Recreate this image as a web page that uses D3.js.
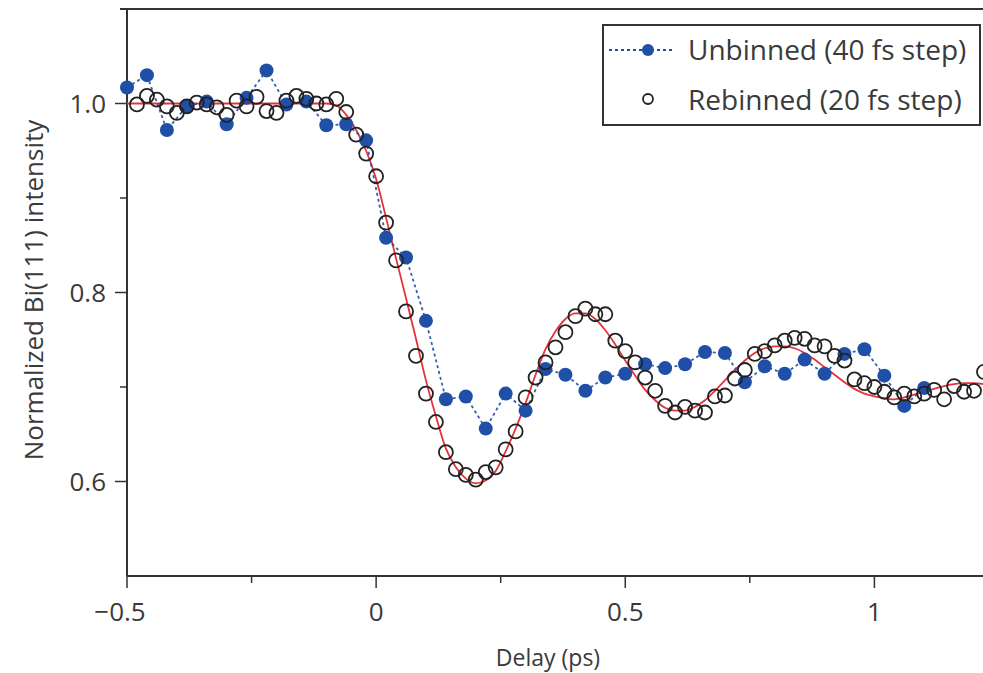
<!DOCTYPE html>
<html>
<head>
<meta charset="utf-8">
<script src="https://cdn.jsdelivr.net/npm/d3@7"></script>
<style>
  body { margin: 0; background: #fff; }
  text { font-family: "Open Sans", "Noto Sans", sans-serif; fill: #3a3a3a; }
</style>
</head>
<body>
<svg id="chart" width="983" height="673"></svg>
<script>
// unbinned data, 40 fs step
let unbinnedX = [-0.50, -0.46, -0.42, -0.38, -0.34, -0.30, -0.26, -0.22, -0.18, -0.14, -0.10, -0.06, -0.02,
    0.02, 0.06, 0.10, 0.14, 0.18, 0.22, 0.26, 0.30, 0.34, 0.38, 0.42, 0.46, 0.50, 0.54, 0.58, 0.62, 0.66,
    0.70, 0.74, 0.78, 0.82, 0.86, 0.90, 0.94, 0.98, 1.02, 1.06, 1.10];
let unbinnedY = [1.017, 1.030, 0.972, 0.997, 1.002, 0.978, 1.006, 1.035, 0.999, 1.002, 0.977, 0.978, 0.961,
    0.858, 0.837, 0.770, 0.687, 0.690, 0.656, 0.693, 0.675, 0.719, 0.713, 0.696, 0.710, 0.714, 0.724, 0.720,
    0.724, 0.737, 0.736, 0.705, 0.722, 0.714, 0.729, 0.714, 0.735, 0.740, 0.712, 0.680, 0.699];

// rebinned data, 20 fs step
let rebinnedX = [-0.48, -0.46, -0.44, -0.42, -0.40, -0.38, -0.36, -0.34, -0.32, -0.30, -0.28, -0.26, -0.24,
    -0.22, -0.20, -0.18, -0.16, -0.14, -0.12, -0.10, -0.08, -0.06, -0.04, -0.02, 0.00, 0.02, 0.04, 0.06,
    0.08, 0.10, 0.12, 0.14, 0.16, 0.18, 0.20, 0.22, 0.24, 0.26, 0.28, 0.30, 0.32, 0.34, 0.36, 0.38, 0.40,
    0.42, 0.44, 0.46, 0.48, 0.50, 0.52, 0.54, 0.56, 0.58, 0.60, 0.62, 0.64, 0.66, 0.68, 0.70, 0.72, 0.74,
    0.76, 0.78, 0.80, 0.82, 0.84, 0.86, 0.88, 0.90, 0.92, 0.94, 0.96, 0.98, 1.00, 1.02, 1.04, 1.06, 1.08,
    1.10, 1.12, 1.14, 1.16, 1.18, 1.20, 1.22];
let rebinnedY = [0.999, 1.008, 1.004, 0.997, 0.990, 0.997, 1.001, 0.999, 0.996, 0.988, 1.003, 0.997, 1.007,
    0.992, 0.990, 1.003, 1.008, 1.005, 1.000, 0.999, 1.005, 0.991, 0.967, 0.947, 0.923, 0.874, 0.834, 0.780,
    0.733, 0.693, 0.663, 0.631, 0.613, 0.607, 0.602, 0.610, 0.615, 0.634, 0.653, 0.689, 0.710, 0.726, 0.742,
    0.758, 0.775, 0.783, 0.777, 0.777, 0.749, 0.738, 0.726, 0.710, 0.696, 0.680, 0.673, 0.679, 0.675, 0.673,
    0.690, 0.691, 0.709, 0.718, 0.735, 0.738, 0.744, 0.749, 0.752, 0.751, 0.744, 0.743, 0.733, 0.728, 0.708,
    0.704, 0.700, 0.695, 0.689, 0.693, 0.690, 0.693, 0.697, 0.687, 0.701, 0.695, 0.696, 0.716];

// fit curve
let fitX = [-0.50, -0.30, -0.10, -0.08, -0.06, -0.04, -0.02, 0.00, 0.02, 0.04, 0.06, 0.08, 0.10, 0.12, 0.14,
    0.16, 0.18, 0.20, 0.22, 0.24, 0.26, 0.28, 0.30, 0.32, 0.34, 0.36, 0.38, 0.40, 0.42, 0.44, 0.46, 0.48,
    0.50, 0.52, 0.54, 0.56, 0.58, 0.60, 0.62, 0.64, 0.66, 0.68, 0.70, 0.72, 0.74, 0.76, 0.78, 0.80, 0.82,
    0.84, 0.86, 0.88, 0.90, 0.92, 0.94, 0.96, 0.98, 1.00, 1.02, 1.04, 1.06, 1.08, 1.10, 1.12, 1.14, 1.16,
    1.18, 1.20, 1.22];
let fitY = [1.000, 1.000, 1.000, 0.998, 0.988, 0.972, 0.950, 0.920, 0.879, 0.836, 0.794, 0.751, 0.707, 0.669,
    0.635, 0.615, 0.603, 0.598, 0.601, 0.611, 0.632, 0.656, 0.683, 0.713, 0.740, 0.759, 0.772, 0.778, 0.778,
    0.772, 0.760, 0.745, 0.728, 0.712, 0.697, 0.686, 0.678, 0.675, 0.675, 0.679, 0.686, 0.696, 0.707, 0.718,
    0.728, 0.736, 0.741, 0.743, 0.743, 0.741, 0.736, 0.729, 0.721, 0.713, 0.705, 0.698, 0.693, 0.690, 0.688,
    0.687, 0.689, 0.692, 0.695, 0.698, 0.701, 0.703, 0.704, 0.704, 0.703];

let xMajor = [-0.5, 0, 0.5, 1];
let xMinor = [-0.25, 0.25, 0.75];
let xLabels = ["\u22120.5", "0", "0.5", "1"];
let yMajor = [0.6, 0.8, 1.0];
let yMinor = [0.7, 0.9, 1.1];
let yLabels = ["0.6", "0.8", "1.0"];

let legendNames = ["Unbinned (40 fs step)", "Rebinned (20 fs step)"];

let blue = "#1f4fa6";
let red = "#e8323a";

let svg = d3.select("#chart");

let x = d3.scaleLinear().domain([-0.5, 1.22]).range([127, 984]);
let y = d3.scaleLinear().domain([0.5, 1.1]).range([576, 9]);

// frame: left axis, bottom axis, top line
svg.append("line").attr("x1", 120).attr("x2", 983).attr("y1", y(1.1)).attr("y2", y(1.1))
    .attr("stroke", "#333").attr("stroke-width", 2);
svg.append("line").attr("x1", x(-0.5)).attr("x2", 983).attr("y1", y(0.5)).attr("y2", y(0.5))
    .attr("stroke", "#333").attr("stroke-width", 2);
svg.append("line").attr("x1", x(-0.5)).attr("x2", x(-0.5)).attr("y1", y(1.1)).attr("y2", y(0.5))
    .attr("stroke", "#333").attr("stroke-width", 2);

// x ticks
svg.selectAll(".xmaj").data(xMajor).enter().append("line")
    .attr("x1", d => x(d)).attr("x2", d => x(d))
    .attr("y1", y(0.5)).attr("y2", y(0.5) + 12)
    .attr("stroke", "#333").attr("stroke-width", 1.5);
svg.selectAll(".xmin").data(xMinor).enter().append("line")
    .attr("x1", d => x(d)).attr("x2", d => x(d))
    .attr("y1", y(0.5)).attr("y2", y(0.5) + 7)
    .attr("stroke", "#333").attr("stroke-width", 1.5);
svg.selectAll(".xlab").data(xMajor).enter().append("text")
    .attr("x", (d, i) => x(d) - (i == 0 ? 7 : 0))
    .attr("y", 621)
    .attr("text-anchor", "middle")
    .attr("font-size", 26)
    .text((d, i) => xLabels[i]);

// y ticks
svg.selectAll(".ymaj").data(yMajor).enter().append("line")
    .attr("x1", x(-0.5) - 12).attr("x2", x(-0.5))
    .attr("y1", d => y(d)).attr("y2", d => y(d))
    .attr("stroke", "#333").attr("stroke-width", 1.5);
svg.selectAll(".ymin").data(yMinor).enter().append("line")
    .attr("x1", x(-0.5) - 7).attr("x2", x(-0.5))
    .attr("y1", d => y(d)).attr("y2", d => y(d))
    .attr("stroke", "#333").attr("stroke-width", 1.5);
svg.selectAll(".ylab").data(yMajor).enter().append("text")
    .attr("x", 106)
    .attr("y", d => y(d) + 9.5)
    .attr("text-anchor", "end")
    .attr("font-size", 26)
    .text((d, i) => yLabels[i]);

// axis titles
svg.append("text").attr("x", 548).attr("y", 666).attr("text-anchor", "middle")
    .attr("font-size", 23).text("Delay (ps)");
svg.append("text").attr("transform", "translate(43,290) rotate(-90)")
    .attr("text-anchor", "middle").attr("font-size", 26)
    .text("Normalized Bi(111) intensity");

// fit line
let fitLine = d3.line().x((d, i) => x(fitX[i])).y(d => y(d)).curve(d3.curveMonotoneX);
svg.append("path").attr("d", fitLine(fitY))
    .attr("fill", "none").attr("stroke", red).attr("stroke-width", 1.8);

// unbinned dashed line + dots
let ubLine = d3.line().x((d, i) => x(unbinnedX[i])).y(d => y(d));
svg.append("path").attr("d", ubLine(unbinnedY))
    .attr("fill", "none").attr("stroke", blue).attr("stroke-width", 1.8)
    .attr("stroke-dasharray", "3,3").attr("opacity", 0.9);
svg.selectAll(".ub").data(unbinnedY).enter().append("circle")
    .attr("cx", (d, i) => x(unbinnedX[i]))
    .attr("cy", d => y(d))
    .attr("r", 7)
    .attr("fill", blue);

// rebinned hollow circles
svg.selectAll(".rb").data(rebinnedY).enter().append("circle")
    .attr("cx", (d, i) => x(rebinnedX[i]))
    .attr("cy", d => y(d))
    .attr("r", 7)
    .attr("fill", "none")
    .attr("stroke", "#222")
    .attr("stroke-width", 1.8);

// legend
let lg = svg.append("g");
lg.append("rect").attr("x", 603).attr("y", 25).attr("width", 377).attr("height", 100)
    .attr("fill", "#fff").attr("stroke", "#333").attr("stroke-width", 2);
lg.append("line").attr("x1", 609).attr("x2", 675).attr("y1", 50).attr("y2", 50)
    .attr("stroke", blue).attr("stroke-width", 1.8).attr("stroke-dasharray", "3,3");
lg.append("circle").attr("cx", 648).attr("cy", 50).attr("r", 6).attr("fill", blue);
lg.append("circle").attr("cx", 648).attr("cy", 99).attr("r", 5)
    .attr("fill", "none").attr("stroke", "#222").attr("stroke-width", 1.8);
lg.selectAll(".lt").data(legendNames).enter().append("text")
    .attr("x", 688).attr("y", (d, i) => 60 + i * 50)
    .attr("font-size", 28)
    .text(d => d);
</script>
</body>
</html>
